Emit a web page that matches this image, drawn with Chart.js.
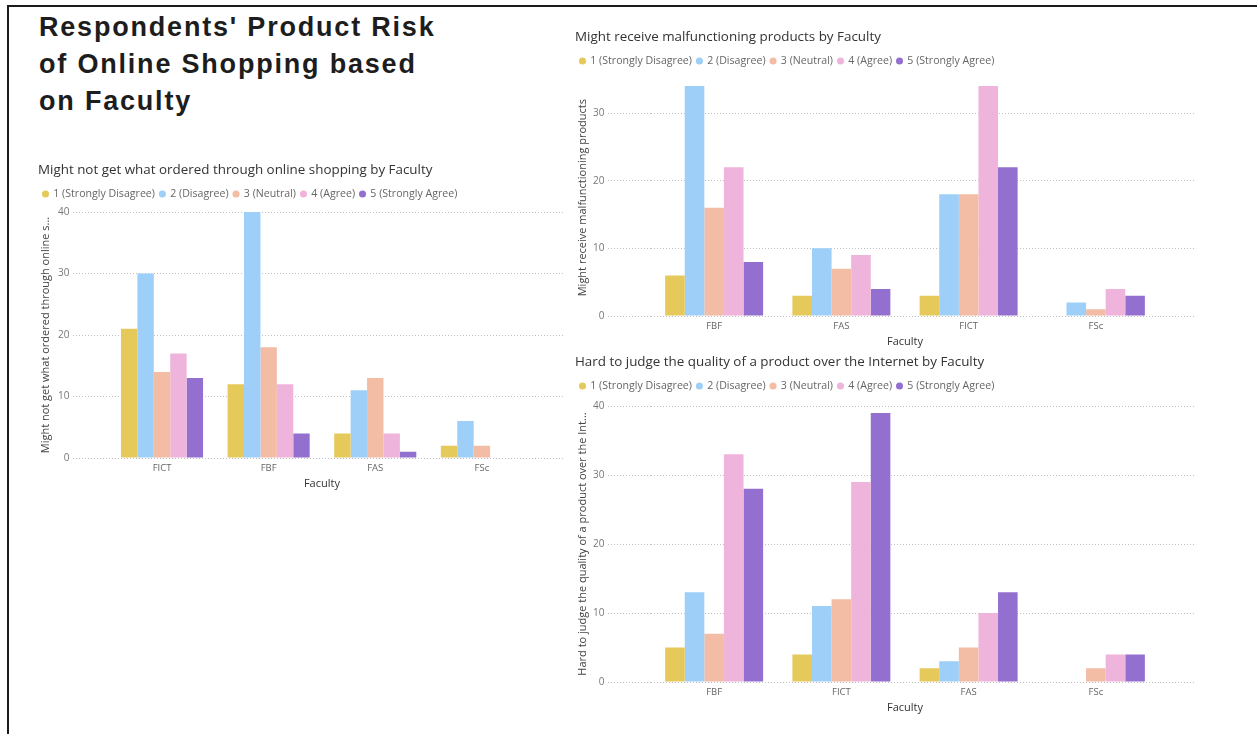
<!DOCTYPE html>
<html>
<head>
<meta charset="utf-8">
<title>Product Risk of Online Shopping</title>
<script src="https://cdn.jsdelivr.net/npm/chart.js@4.4.0/dist/chart.umd.min.js"></script>
<style>
  body { margin: 0; background: #fff; width: 1257px; height: 734px; overflow: hidden; position: relative; }
  .frame { position: absolute; left: 7px; top: 5px; right: 0; bottom: 0; border-left: 2px solid #1b1b1b; border-top: 2px solid #1b1b1b; }
  h1 { position: absolute; left: 39px; top: 9px; margin: 0; font: bold 27px/37px "Liberation Sans", Arial, sans-serif; letter-spacing: 1.8px; color: #1d1d1d; }
  .box { position: absolute; }
</style>
</head>
<body>
<div class="frame"></div>
<h1>Respondents' Product Risk<br>of Online Shopping based<br>on Faculty</h1>
<div class="box" style="left:38px;top:158px"><canvas id="notGet" width="527" height="336"></canvas></div>
<div class="box" style="left:575px;top:25px"><canvas id="malfunction" width="620" height="327"></canvas></div>
<div class="box" style="left:575px;top:350px"><canvas id="quality" width="620" height="368"></canvas></div>
<script>
// answer scale shared by all three charts
const answers = ['1 (Strongly Disagree)', '2 (Disagree)', '3 (Neutral)', '4 (Agree)', '5 (Strongly Agree)'];
const answerColors = ['#E6C95B', '#9ECFF9', '#F3BCA5', '#EFB4DB', '#9370D0'];

// Might not get what ordered
const notGetFaculties = ['FICT', 'FBF', 'FAS', 'FSc'];
const notGetSD = [21, 12, 4, 2];
const notGetD = [30, 40, 11, 6];
const notGetN = [14, 18, 13, 2];
const notGetA = [17, 12, 4, null];
const notGetSA = [13, 4, 1, null];

// Might receive malfunctioning products
const malFaculties = ['FBF', 'FAS', 'FICT', 'FSc'];
const malSD = [6, 3, 3, null];
const malD = [34, 10, 18, 2];
const malN = [16, 7, 18, 1];
const malA = [22, 9, 34, 4];
const malSA = [8, 4, 22, 3];

// Hard to judge the quality over the Internet
const qualFaculties = ['FBF', 'FICT', 'FAS', 'FSc'];
const qualSD = [5, 4, 2, null];
const qualD = [13, 11, 3, null];
const qualN = [7, 12, 5, 2];
const qualA = [33, 29, 10, 4];
const qualSA = [28, 39, 13, 4];

Chart.defaults.font.family = '"Open Sans", sans-serif';

const gridColor = 'rgba(0,0,0,0.25)';
const dots = [1, 2];

// pushes the plot a few pixels further below the legend
const legendGap = {
  id: 'legendGap',
  afterInit(chart, args, opts) {
    const legend = chart.legend;
    const fit = legend.fit;
    legend.fit = function () {
      fit.call(this);
      this.height += opts.gap || 0;
    };
  }
};

function drawChart(id, title, faculties, series, yTitle, yMax, lay) {
  new Chart(document.getElementById(id), {
    type: 'bar',
    plugins: [legendGap],
    data: {
      labels: faculties,
      datasets: series.map((values, i) => ({
        label: answers[i],
        data: values,
        backgroundColor: answerColors[i],
        categoryPercentage: 0.77,
        barPercentage: 1
      }))
    },
    options: {
      responsive: false,
      animation: false,
      layout: { padding: 0 },
      plugins: {
        title: {
          display: true,
          text: title,
          align: 'start',
          color: '#333',
          font: { size: 13.4, weight: 'normal' },
          padding: { top: 3.96, bottom: 5.66 }
        },
        legend: {
          align: 'start',
          labels: {
            usePointStyle: true,
            pointStyle: 'circle',
            boxWidth: 5,
            boxHeight: 5,
            padding: 5,
            color: '#666',
            font: { size: 10.6 }
          }
        },
        legendGap: { gap: lay.gap },
        tooltip: { enabled: false }
      },
      scales: {
        x: {
          grid: { display: false, drawTicks: false },
          border: { display: false },
          ticks: { color: '#666', font: { size: 9.5 }, padding: 5 },
          title: { display: true, text: 'Faculty', color: '#333', font: { size: 11 }, padding: { top: 0, bottom: 3.4 } },
          afterFit(s) { s.height = 36; }
        },
        y: {
          min: 0,
          max: yMax,
          ticks: { stepSize: 10, includeBounds: false, color: '#777', font: { size: 10 }, padding: 3.5 },
          grid: { color: gridColor, tickBorderDash: dots, tickColor: gridColor, drawTicks: true, tickLength: lay.tickLen },
          border: { display: false, dash: dots },
          title: { display: true, text: yTitle, color: '#444', font: { size: 11 }, padding: { top: 1.2, bottom: 0 } },
          afterFit(s) { s.width = lay.yWidth; }
        },
        yEdge: {
          type: 'linear',
          position: 'right',
          min: 0,
          max: yMax,
          ticks: { stepSize: 10, includeBounds: false, display: false },
          grid: { drawOnChartArea: false, color: gridColor, tickBorderDash: dots, tickColor: gridColor, drawTicks: true, tickLength: lay.rightExt },
          border: { display: false },
          afterFit(s) { s.width = lay.rightExt; }
        }
      }
    }
  });
}

drawChart('notGet', 'Might not get what ordered through online shopping by Faculty', notGetFaculties,
  [notGetSD, notGetD, notGetN, notGetA, notGetSA],
  'Might not get what ordered through online s...', 40,
  { yWidth: 70.7, tickLen: 35.7, rightExt: 29.8, gap: 2.7 });

drawChart('malfunction', 'Might receive malfunctioning products by Faculty', malFaculties,
  [malSD, malD, malN, malA, malSA],
  'Might receive malfunctioning products', 35,
  { yWidth: 75.5, tickLen: 42.5, rightExt: 35.5, gap: 2.95 });

drawChart('quality', 'Hard to judge the quality of a product over the Internet by Faculty', qualFaculties,
  [qualSD, qualD, qualN, qualA, qualSA],
  'Hard to judge the quality of a product over the Int...', 40,
  { yWidth: 75.5, tickLen: 42.5, rightExt: 35.5, gap: 4.7 });
</script>
</body>
</html>
